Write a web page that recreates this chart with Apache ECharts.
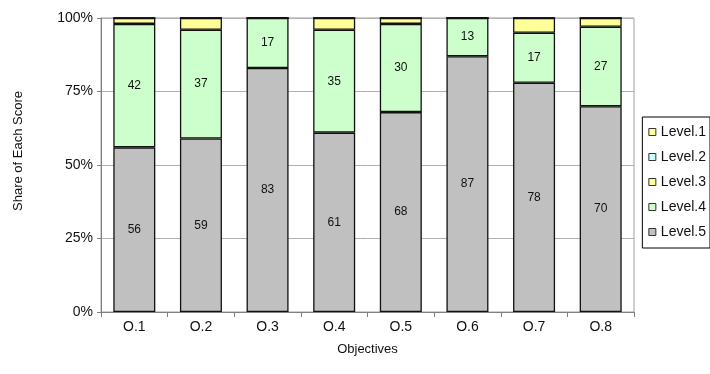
<!DOCTYPE html>
<html>
<head>
<meta charset="utf-8">
<script src="https://cdn.jsdelivr.net/npm/echarts@6/dist/echarts.min.js"></script>
<style>
  html, body { margin: 0; padding: 0; background: #fff; }
  #chart { width: 710px; height: 374px; }
</style>
</head>
<body>
<div id="chart"></div>
<script>
// Objectives along the x axis
const categories = ['O.1', 'O.2', 'O.3', 'O.4', 'O.5', 'O.6', 'O.7', 'O.8'];
// Share of each score level per objective (percent)
const level1 = [0, 0, 0, 0, 0, 0, 0, 0];
const level2 = [0, 0, 0, 0, 0, 0, 0, 0];
const level3 = [2, 4, 0, 4, 2, 0, 5, 3];
const level4 = [42, 37, 17, 35, 30, 13, 17, 27];
const level5 = [56, 59, 83, 61, 68, 87, 78, 70];
// Value axis ticks
const yTicks = [0, 25, 50, 75, 100];

const FONT = 'Liberation Sans, Arial, sans-serif';

function barSeries(name, data, color, showLabel) {
  return {
    name: name,
    type: 'bar',
    stack: 'share',
    data: data,
    barWidth: 42,
    itemStyle: { color: color, borderColor: '#111', borderWidth: 1.3 },
    label: {
      show: showLabel,
      position: 'inside',
      color: '#111',
      fontFamily: FONT,
      fontSize: 12,
      formatter: p => (p.value > 0 ? String(p.value) : '')
    },
    emphasis: { disabled: true }
  };
}

const chart = echarts.init(document.getElementById('chart'), null, { renderer: 'canvas' });
chart.setOption({
  animation: false,
  backgroundColor: '#fff',
  grid: { left: 101, right: 76, top: 18, bottom: 62, show: true, borderColor: '#a0a0a0', borderWidth: 1 },
  legend: {
    orient: 'vertical',
    right: 0,
    top: 117,
    padding: [8, 4, 9, 6],
    itemGap: 11,
    itemWidth: 7,
    itemHeight: 7,
    icon: 'rect',
    borderColor: '#000',
    borderWidth: 1,
    itemStyle: { borderColor: '#333', borderWidth: 1 },
    textStyle: { fontFamily: FONT, fontSize: 14, color: '#111', padding: [0, 0, 0, 0] },
    data: ['Level.1', 'Level.2', 'Level.3', 'Level.4', 'Level.5']
  },
  xAxis: {
    type: 'category',
    data: categories,
    name: 'Objectives',
    nameLocation: 'middle',
    nameGap: 31,
    nameTextStyle: { fontFamily: FONT, fontSize: 13, color: '#111' },
    axisLine: { lineStyle: { color: '#808080' } },
    axisTick: { show: true, alignWithLabel: false, length: 5, lineStyle: { color: '#808080' } },
    axisLabel: { fontFamily: FONT, fontSize: 14, color: '#111', margin: 8 }
  },
  yAxis: {
    type: 'value',
    min: yTicks[0],
    max: yTicks[yTicks.length - 1],
    interval: 25,
    name: 'Share of Each Score',
    nameLocation: 'middle',
    nameGap: 76,
    nameRotate: 90,
    nameTextStyle: { fontFamily: FONT, fontSize: 13, color: '#111', padding: [0, 0, 0, 28] },
    axisLine: { show: true, lineStyle: { color: '#808080' } },
    axisTick: { show: true, length: 4, inside: false, lineStyle: { color: '#808080' } },
    axisLabel: { fontFamily: FONT, fontSize: 14, color: '#111', margin: 8, formatter: v => v + '%' },
    splitLine: { show: true, lineStyle: { color: '#b0b0b0', width: 1 } }
  },
  series: [
    barSeries('Level.5', level5, '#C0C0C0', true),
    barSeries('Level.4', level4, '#CCFFCC', true),
    barSeries('Level.3', level3, '#FFFF99', false),
    barSeries('Level.2', level2, '#CCFFFF', false),
    barSeries('Level.1', level1, '#FFFF99', false)
  ]
});
</script>
</body>
</html>
